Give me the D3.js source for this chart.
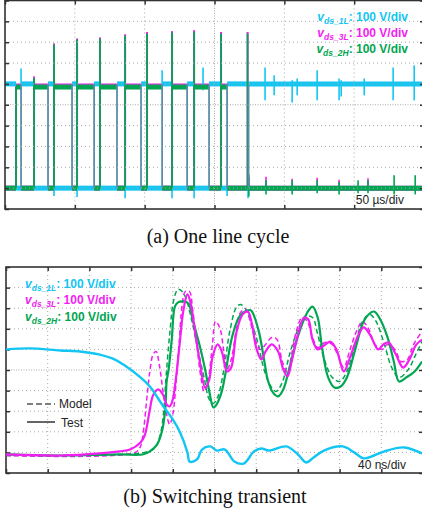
<!DOCTYPE html>
<html>
<head>
<meta charset="utf-8">
<script src="https://cdn.jsdelivr.net/npm/d3@7"></script>
<style>
  body { margin: 0; background: #fff; }
  svg { display: block; }
</style>
</head>
<body>
<div id="chart"></div>
<script>
// ---------- panel (a): one line cycle, 50 us/div, 100 V/div ----------
let timeTicksA = d3.range(0, 301, 50);        // us
let voltTicksA = d3.range(-100, 901, 100);    // V

// switching pulses of vds_2H (us)
let pulseStart = [7.9, 20.8, 35.1, 51.6, 68.0, 86.0, 101.7, 119.6, 135.4, 154.7, 173.7];
let pulseEnd   = [11.5, 30.8, 48.0, 63.8, 80.2, 97.4, 112.5, 130.4, 146.1, 159.0, 174.4];
let greenPeak   = [485, 530, 689, 713, 718, 732, 742, 746, 751, 742, 742];
let magentaPeak = [490, 536, 694, 718, 723, 738, 749, 753, 758, 749, 749];

let cyanHighV = 500, greenHighV = 485, magentaHighV = 490, lowV = 0;

// vds_1L spikes on the high level
let cyanSpikeT    = [11.5, 112.5, 141.8, 186.2, 192.7, 205.6, 209.2, 223.5, 239.2, 240.7, 257.2, 277.9, 293.0];
let cyanSpikeUp   = [574, 565, 579, 579, 541, 517, 526, 565, 526, 517, 526, 579, 589];
let cyanSpikeDown = [470, 470, 470, 421, 445, 411, 445, 421, 421, 440, 445, 421, 421];
// vds_1L undershoot on the low level
let cyanDipT = [35.1, 51.6, 86.0, 119.6, 135.4, 159.0, 174.0];
let cyanDipV = [-38, -43, -48, -48, -48, -38, -48];

// vds_2H / vds_3L ringing on the low level
let greenLowT  = [174.6, 186.9, 205.6, 223.5, 239.2, 252.8, 259.9, 278.6, 293.7];
let greenLowUp = [53, 38, 38, 38, 29, 38, 38, 62, 62];
let greenLowDn = [-40, -30, -30, -25, -30, -25, -25, -30, -30];
let magentaLowT  = [174.6, 186.9, 205.6, 223.5, 239.2, 259.9];
let magentaLowUp = [65, 55, 45, 50, 40, 48];

// ---------- panel (b): switching transient, 40 ns/div, 100 V/div ----------
let timeTicksB = d3.range(0, 401, 40);        // ns
let voltTicksB = d3.range(-90, 911, 100);     // V

let cyanTest = [[0,510],[23,515],[52,505],[71,500],[90,485],[102,466],[114,432],[129,374],[138,330],
  [151,233],[160,170],[167,107],[174,10],[176,-34],[180,-34],[184,-19],[188,24],[196,39],[202,19],
  [210,24],[219,-34],[228,-44],[238,15],[245,29],[252,19],[269,39],[280,0],[288,-39],[295,-15],
  [305,19],[323,39],[334,10],[343,-19],[353,-5],[363,15],[382,34],[399,5]];

let magentaTest = [[0,0],[52,-5],[90,5],[109,15],[119,24],[129,58],[133,92],[138,218],[141,286],
  [146,316],[151,286],[154,243],[157,233],[160,267],[162,330],[164,413],[167,558],[170,694],[174,777],
  [177,738],[181,607],[186,447],[191,325],[195,364],[198,471],[203,534],[207,500],[212,403],[216,422],
  [221,592],[227,680],[232,694],[236,631],[240,519],[245,461],[249,500],[255,534],[261,500],[266,413],
  [270,379],[274,451],[280,582],[286,665],[290,655],[294,558],[299,510],[305,529],[311,548],[317,510],
  [324,403],[330,471],[337,568],[343,617],[349,583],[357,510],[362,534],[367,544],[374,485],[381,422],
  [388,471],[393,529],[399,558]];

let magentaModel = [[0,-5],[124,10],[129,39],[132,121],[135,267],[138,403],[141,485],[144,500],[147,437],
  [151,291],[154,194],[157,146],[160,194],[163,340],[166,534],[169,728],[172,791],[176,791],[179,704],
  [183,534],[187,374],[190,306],[194,364],[198,534],[201,646],[205,616],[209,500],[212,413],[216,461],
  [221,607],[225,689],[230,704],[235,631],[239,558],[244,510],[249,534],[255,568],[260,558],[265,451],
  [270,398],[274,485],[279,607],[284,665],[289,646],[294,568],[299,519],[306,544],[313,534],[318,485],
  [324,422],[330,510],[337,607],[342,646],[348,607],[354,534],[361,510],[366,534],[373,510],[379,451],
  [385,461],[391,534],[399,597]];

let greenTest = [[0,0],[52,-5],[109,0],[131,0],[138,15],[145,49],[150,121],[153,233],[154,350],[156,413],
  [159,558],[162,718],[165,738],[170,743],[175,733],[179,655],[186,524],[191,413],[195,306],[199,228],
  [202,243],[207,306],[210,379],[217,573],[224,670],[231,699],[235,699],[242,607],[248,447],[251,364],
  [256,301],[261,282],[266,316],[271,403],[280,573],[289,689],[294,718],[299,665],[303,524],[309,374],
  [315,325],[321,330],[327,374],[335,510],[344,655],[353,694],[359,655],[366,568],[372,451],[377,354],
  [384,374],[392,403],[399,451]];

let greenModel = [[0,-5],[133,10],[143,34],[148,97],[151,194],[153,340],[157,582],[161,752],[165,801],
  [169,791],[173,752],[178,655],[184,510],[190,374],[195,267],[199,248],[203,277],[209,413],[215,607],
  [221,714],[225,728],[230,704],[236,631],[242,534],[247,422],[253,340],[259,306],[265,350],[272,485],
  [280,607],[287,670],[294,665],[299,582],[306,451],[313,374],[320,354],[327,403],[335,534],[342,646],
  [349,680],[355,646],[363,534],[370,422],[377,374],[386,413],[393,485],[400,558]];

// colours of the channels
let cyan = "#12c6f3";
let magenta = "#f21ef2";
let green = "#00a651";
let edgeGray = "#5a8da8";

let svg = d3.select("#chart")
    .append("svg")
    .attr("width", 422)
    .attr("height", 519);

// frame, dotted graticule and inward ticks
function drawFrame(x, y, xTicks, yTicks, xMid, yMid) {
    let g = svg.append("g");
    let x0 = x.range()[0], x1 = x.range()[1];
    let y0 = y.range()[0], y1 = y.range()[1];

    g.selectAll(".vgrid")
        .data(xTicks.slice(1, -1))
        .enter()
        .append("line")
        .attr("x1", d => x(d)).attr("x2", d => x(d))
        .attr("y1", y1).attr("y2", y0)
        .attr("stroke", "#a8a8a8")
        .attr("stroke-width", 1)
        .attr("stroke-dasharray", d => d === xMid ? "1,1.5" : "1,3");

    g.selectAll(".hgrid")
        .data(yTicks.slice(1, -1))
        .enter()
        .append("line")
        .attr("y1", d => y(d)).attr("y2", d => y(d))
        .attr("x1", x0).attr("x2", x1)
        .attr("stroke", "#a8a8a8")
        .attr("stroke-width", 1)
        .attr("stroke-dasharray", d => d === yMid ? "1,1.5" : "1,3");

    let axes = [
        [d3.axisBottom(x).tickValues(xTicks), `translate(0,${y0})`],
        [d3.axisTop(x).tickValues(xTicks), `translate(0,${y1})`],
        [d3.axisLeft(y).tickValues(yTicks), `translate(${x0},0)`],
        [d3.axisRight(y).tickValues(yTicks), `translate(${x1},0)`]
    ];
    axes.forEach(function(a) {
        let ag = g.append("g")
            .attr("transform", a[1])
            .call(a[0].tickSize(-4).tickSizeOuter(0).tickFormat(""));
        ag.select(".domain").remove();
        ag.selectAll("line").attr("stroke", "#333").attr("stroke-width", 1.5);
    });

    g.append("rect")
        .attr("x", x0).attr("y", y1)
        .attr("width", x1 - x0).attr("height", y0 - y1)
        .attr("fill", "none")
        .attr("stroke", "#333")
        .attr("stroke-width", 1.6);
    return g;
}

function legend(g, x, y, anchor, color, sub) {
    let t = g.append("text")
        .attr("x", x).attr("y", y)
        .attr("text-anchor", anchor)
        .attr("font-family", "Liberation Sans, Arial, sans-serif")
        .attr("font-weight", "bold")
        .attr("font-size", "12px")
        .attr("fill", color);
    t.append("tspan").attr("font-style", "italic").text("v");
    t.append("tspan").attr("font-style", "italic").attr("font-size", "8.5px").attr("dy", 3).text(sub);
    t.append("tspan").attr("dy", -3).text(": 100 V/div");
}

// ================= panel (a) =================
let xA = d3.scaleLinear().domain([0, 300]).range([5, 424]);
let yA = d3.scaleLinear().domain([-100, 900]).range([209, 0.5]);

let plotA = svg.append("g");
svg.append("clipPath").attr("id", "clipA")
    .append("rect").attr("x", 5).attr("y", 0).attr("width", 419).attr("height", 209);
plotA.attr("clip-path", "url(#clipA)");

// segments of each channel built from the pulse table
function segments(highV, inverted) {
    let segs = [];
    let prev = 0;
    pulseStart.forEach(function(s, i) {
        segs.push([prev, s, inverted ? highV : lowV]);
        segs.push([s, pulseEnd[i], inverted ? lowV : highV]);
        prev = pulseEnd[i];
    });
    segs.push([prev, 300, inverted ? highV : lowV]);
    return segs;
}

function drawBands(segs, color) {
    plotA.append("g").selectAll("line")
        .data(segs)
        .enter()
        .append("line")
        .attr("x1", d => xA(d[0])).attr("x2", d => xA(d[1]))
        .attr("y1", d => yA(d[2])).attr("y2", d => yA(d[2]))
        .attr("stroke", color)
        .attr("stroke-width", 5);
}

function drawSpikes(ts, from, to, color, width) {
    plotA.append("g").selectAll("line")
        .data(ts)
        .enter()
        .append("line")
        .attr("x1", d => xA(d)).attr("x2", d => xA(d))
        .attr("y1", (d, i) => yA(Array.isArray(from) ? from[i] : from))
        .attr("y2", (d, i) => yA(Array.isArray(to) ? to[i] : to))
        .attr("stroke", color)
        .attr("stroke-width", width);
}

// vds_3L (mostly behind vds_2H)
drawBands(segments(magentaHighV, false), magenta);
drawSpikes(pulseStart, lowV, magentaPeak, magenta, 2);
drawSpikes(magentaLowT, lowV, magentaLowUp, magenta, 1.6);

// vds_1L
drawBands(segments(cyanHighV, true), cyan);
drawSpikes(cyanSpikeT, cyanSpikeDown, cyanSpikeUp, cyan, 1.6);
drawSpikes(cyanDipT, lowV, cyanDipV, cyan, 1.6);

// vds_2H
drawBands(segments(greenHighV, false), green);
drawSpikes(pulseStart, lowV, greenPeak, green, 1.8);
drawSpikes(greenLowT, greenLowDn, greenLowUp, green, 1.6);

// falling edges where the three traces overlap
drawSpikes(pulseEnd, lowV, cyanHighV, edgeGray, 1.8);

drawFrame(xA, yA, timeTicksA, voltTicksA, 150, 400);

legend(svg, 408, 21, "end", cyan, "ds_1L");
legend(svg, 408, 37, "end", magenta, "ds_3L");
legend(svg, 408, 53, "end", green, "ds_2H");

svg.append("text")
    .attr("x", 404).attr("y", 204)
    .attr("text-anchor", "end")
    .attr("font-family", "Liberation Sans, Arial, sans-serif")
    .attr("font-size", "12px")
    .attr("fill", "#222")
    .text("50 µs/div");

svg.append("text")
    .attr("x", 218).attr("y", 243)
    .attr("text-anchor", "middle")
    .attr("font-family", "Liberation Serif, Times New Roman, serif")
    .attr("font-size", "20px")
    .attr("fill", "#111")
    .text("(a) One line cycle");

// ================= panel (b) =================
let xB = d3.scaleLinear().domain([0, 400]).range([6, 423]);
let yB = d3.scaleLinear().domain([-90, 910]).range([473, 267]);

svg.append("clipPath").attr("id", "clipB")
    .append("rect").attr("x", 6).attr("y", 267).attr("width", 417).attr("height", 206);

drawFrame(xB, yB, timeTicksB, voltTicksB, 200, 410);

let plotB = svg.append("g").attr("clip-path", "url(#clipB)");

let line = d3.line()
    .x(d => xB(d[0]))
    .y(d => yB(d[1]))
    .curve(d3.curveCatmullRom);

let traces = [
    {data: greenModel, color: green, dash: "5,3", width: 1.5},
    {data: magentaModel, color: magenta, dash: "5,3", width: 1.5},
    {data: greenTest, color: green, dash: null, width: 2.2},
    {data: magentaTest, color: magenta, dash: null, width: 2.2},
    {data: cyanTest, color: cyan, dash: null, width: 2.4}
];

plotB.selectAll("path")
    .data(traces)
    .enter()
    .append("path")
    .attr("d", d => line(d.data))
    .attr("fill", "none")
    .attr("stroke", d => d.color)
    .attr("stroke-width", d => d.width)
    .attr("stroke-dasharray", d => d.dash);

legend(svg, 25, 288, "start", cyan, "ds_1L");
legend(svg, 25, 304, "start", magenta, "ds_3L");
legend(svg, 25, 321, "start", green, "ds_2H");

// model / test key
let key = svg.append("g")
    .attr("font-family", "Liberation Sans, Arial, sans-serif")
    .attr("font-size", "12px")
    .attr("fill", "#222");
key.append("line")
    .attr("x1", 27).attr("x2", 55).attr("y1", 404).attr("y2", 404)
    .attr("stroke", "#555").attr("stroke-width", 1.3).attr("stroke-dasharray", "6,3");
key.append("text").attr("x", 59).attr("y", 408).text("Model");
key.append("line")
    .attr("x1", 27).attr("x2", 55).attr("y1", 422).attr("y2", 422)
    .attr("stroke", "#111").attr("stroke-width", 1.3);
key.append("text").attr("x", 61).attr("y", 427).text("Test");

svg.append("text")
    .attr("x", 406).attr("y", 469)
    .attr("text-anchor", "end")
    .attr("font-family", "Liberation Sans, Arial, sans-serif")
    .attr("font-size", "12px")
    .attr("fill", "#222")
    .text("40 ns/div");

svg.append("text")
    .attr("x", 215).attr("y", 503)
    .attr("text-anchor", "middle")
    .attr("font-family", "Liberation Serif, Times New Roman, serif")
    .attr("font-size", "20px")
    .attr("fill", "#111")
    .text("(b) Switching transient");
</script>
</body>
</html>
